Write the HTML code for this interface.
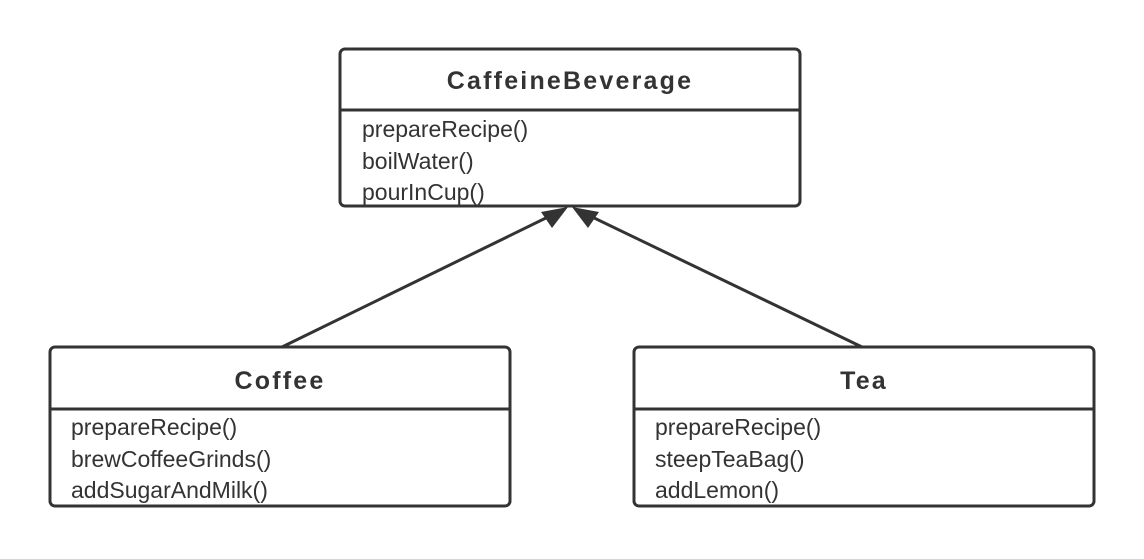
<!DOCTYPE html>
<html><head><style>
body{margin:0;width:1144px;height:554px;background:#fff;overflow:hidden}
svg text{font-family:"Liberation Sans",sans-serif;fill:#333}
.t{font-weight:bold;font-size:25px;letter-spacing:2.2px}
.m{font-size:23px}
</style></head><body>
<svg width="1144" height="554">
<g stroke="#333" stroke-width="3" fill="none">
<rect x="340" y="49" width="460" height="157" rx="5"/>
<line x1="340" y1="110" x2="800" y2="110"/>
<rect x="50" y="347" width="460" height="159" rx="5"/>
<line x1="50" y1="409" x2="510" y2="409"/>
<rect x="634" y="347" width="460" height="159" rx="5"/>
<line x1="634" y1="409" x2="1094" y2="409"/>
<line x1="282" y1="347" x2="552" y2="215"/>
<line x1="862" y1="347" x2="588" y2="215"/>
</g>
<polygon points="568,207 541,212 552,228" fill="#333"/>
<polygon points="572,207 599,212 588,228" fill="#333"/>
<text class="t" x="570" y="89" text-anchor="middle">CaffeineBeverage</text>
<text class="m" x="362" y="137">prepareRecipe()</text>
<text class="m" x="362" y="169">boilWater()</text>
<text class="m" x="362" y="200">pourInCup()</text>
<text class="t" x="280" y="389" text-anchor="middle">Coffee</text>
<text class="m" x="71" y="435">prepareRecipe()</text>
<text class="m" x="71" y="467">brewCoffeeGrinds()</text>
<text class="m" x="71" y="498">addSugarAndMilk()</text>
<text class="t" x="864" y="389" text-anchor="middle">Tea</text>
<text class="m" x="655" y="435">prepareRecipe()</text>
<text class="m" x="655" y="467">steepTeaBag()</text>
<text class="m" x="655" y="498">addLemon()</text>
</svg>
</body></html>
